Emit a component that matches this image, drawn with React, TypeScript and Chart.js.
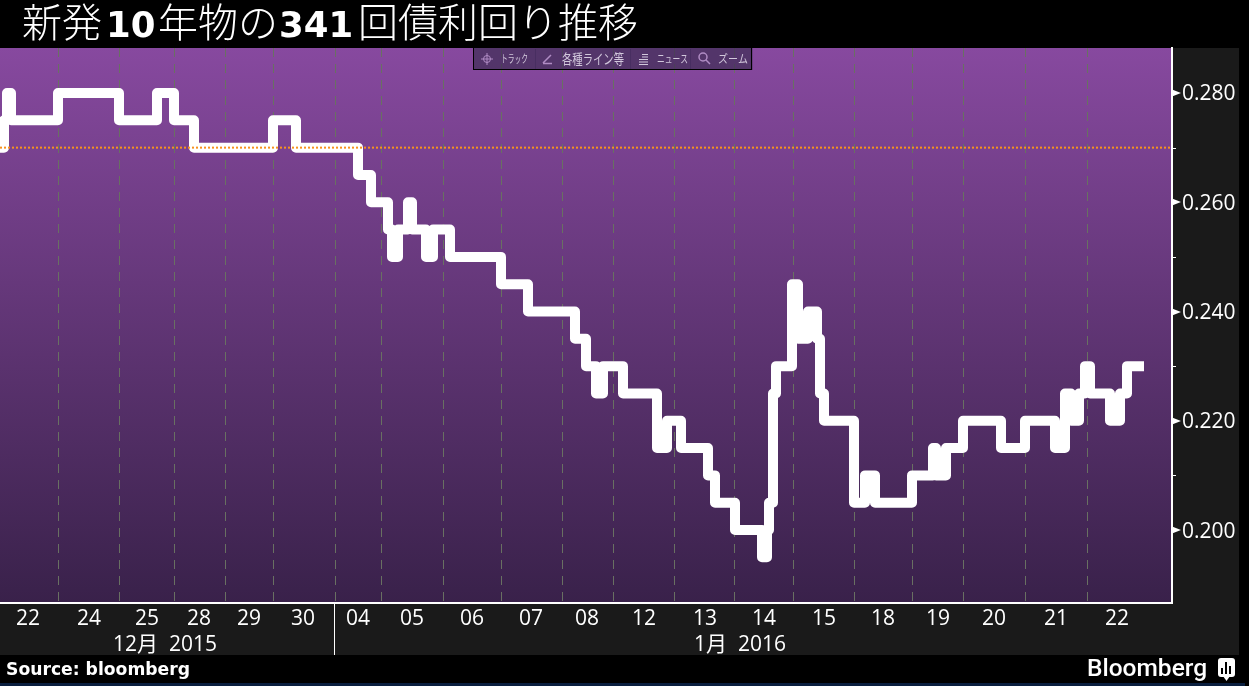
import React, { useEffect, useRef } from "react";
import { Chart, registerables } from "chart.js";

Chart.register(...registerables);

// Elapsed trading ticks on the bottom axis, and the yield set at each tick (step line)
const elapsedTicks = [0, 4, 7, 11, 58, 119, 157, 174, 194, 273, 296, 358, 371, 388, 392, 398, 408, 412, 426, 433, 450, 501, 528, 575, 586, 596, 603, 623, 657, 667, 681, 708, 715, 735, 762, 767, 769, 773, 776, 792, 798, 808, 817, 820, 824, 854, 865, 875, 912, 933, 936, 946, 963, 1001, 1025, 1055, 1065, 1071, 1079, 1085, 1090, 1110, 1120, 1127, 1144];
const yields = [0.27, 0.275, 0.28, 0.275, 0.28, 0.275, 0.28, 0.275, 0.27, 0.275, 0.27, 0.265, 0.26, 0.255, 0.25, 0.255, 0.26, 0.255, 0.25, 0.255, 0.25, 0.245, 0.24, 0.235, 0.23, 0.225, 0.23, 0.225, 0.215, 0.22, 0.215, 0.21, 0.205, 0.2, 0.195, 0.2, 0.205, 0.225, 0.23, 0.245, 0.235, 0.24, 0.235, 0.225, 0.22, 0.205, 0.21, 0.205, 0.21, 0.215, 0.21, 0.215, 0.22, 0.215, 0.22, 0.215, 0.225, 0.22, 0.225, 0.23, 0.225, 0.22, 0.225, 0.23, 0.23];
const referenceYield = 0.27;

const xMin = 0;
const xMax = 1172;
const yMin = 0.18664;
const yMax = 0.28824;

const dayBoundaries = [58, 119, 174, 225, 273, 335, 381, 443, 501, 562, 613, 674, 735, 793, 854, 912, 963, 1025, 1087];
const dayLabels = ["22", "24", "25", "28", "29", "30", "04", "05", "06", "07", "08", "12", "13", "14", "15", "18", "19", "20", "21", "22"];
const dayCentres = [28, 89, 147, 199, 249, 303, 358, 412, 472, 531, 587, 644, 705, 764, 824, 883, 938, 994, 1056, 1117];
const monthLabels = ["12月  2015", "1月  2016"];
const monthCentres = [165, 740];
const monthSeparator = 335;
const yTicks = [0.2, 0.21, 0.22, 0.23, 0.24, 0.25, 0.26, 0.27, 0.28];
const yLabelled = [0.2, 0.22, 0.24, 0.26, 0.28];

const cjk = '"Noto Sans CJK JP"';
const labelFont = '"Open Sans", "Noto Sans CJK JP", sans-serif';

const titleRuns: [string, boolean, number][] = [
  ["新発", false, 22],
  ["10", true, 106],
  ["年物の", false, 158],
  ["341", true, 279],
  ["回債利回り推移", false, 358],
];

const toolbarItems: [string, number, number][] = [
  ["トラック", 501, 27],
  ["各種ライン等", 562, 62],
  ["ニュース", 657, 31],
  ["ズーム", 718, 30],
];
const toolbarDividers = [535, 630, 690];

const chrome = {
  id: "chrome",
  beforeDraw(chart: any) {
    const { ctx, chartArea: a, width, height } = chart;
    ctx.save();
    ctx.fillStyle = "#000";
    ctx.fillRect(0, 0, width, height);
    ctx.fillStyle = "#1a1a1a";
    ctx.fillRect(0, a.top, 1239, 655 - a.top);
    ctx.fillStyle = "#0a1f3f";
    ctx.fillRect(0, 683, 1245, 3);
    const g = ctx.createLinearGradient(0, a.top, 0, a.bottom);
    g.addColorStop(0, "#87499f");
    g.addColorStop(1, "#39214a");
    ctx.fillStyle = g;
    ctx.fillRect(a.left, a.top, a.right - a.left, a.bottom - a.top);

    ctx.fillStyle = "#fff";
    ctx.textBaseline = "alphabetic";
    ctx.textAlign = "left";
    for (const [text, bold, x] of titleRuns) {
      ctx.font = bold ? 'bold 35.5px "DejaVu Sans"' : `300 40px ${cjk}`;
      ctx.fillText(text, x, 37);
    }

    ctx.font = 'bold 17.2px "DejaVu Sans"';
    ctx.fillText("Source: bloomberg", 6, 675);
    ctx.font = '500 24.5px Roboto';
    ctx.fillText("Bloomberg", 1087, 676);
    ctx.beginPath();
    ctx.roundRect(1218, 658, 17, 19, 3);
    ctx.fill();
    ctx.beginPath();
    ctx.moveTo(1223, 676);
    ctx.lineTo(1226.5, 681);
    ctx.lineTo(1230, 676);
    ctx.fill();
    ctx.fillStyle = "#000";
    ctx.fillRect(1221, 668, 2, 6);
    ctx.fillRect(1225, 662, 2, 12);
    ctx.fillRect(1229, 666, 2, 8);
    ctx.restore();
  },
  afterDraw(chart: any) {
    const { ctx, chartArea: a, scales } = chart;
    ctx.save();
    // y-axis tick marks
    ctx.fillStyle = "#fff";
    for (const v of yTicks) {
      const y = Math.round(scales.y.getPixelForValue(v));
      if (yLabelled.includes(v)) {
        ctx.beginPath();
        ctx.moveTo(a.right, y - 3.5);
        ctx.lineTo(a.right + 9, y);
        ctx.lineTo(a.right, y + 3.5);
        ctx.fill();
      } else {
        ctx.fillRect(a.right, y, 4, 1);
      }
    }
    // month separator
    const sx = Math.round(scales.x.getPixelForValue(monthSeparator));
    ctx.fillRect(sx - 1, a.bottom, 1, 655 - a.bottom);

    // toolbar
    ctx.fillStyle = "rgba(64,46,86,0.72)";
    ctx.fillRect(473.5, 48, 279, 22);
    ctx.strokeStyle = "#000";
    ctx.lineWidth = 1;
    ctx.strokeRect(473.5, 47.5, 278, 22);
    ctx.strokeStyle = "rgba(70,45,95,0.8)";
    for (const x of toolbarDividers) {
      ctx.beginPath();
      ctx.moveTo(x + 0.5, 49);
      ctx.lineTo(x + 0.5, 69);
      ctx.stroke();
    }
    ctx.fillStyle = "#d2c8dc";
    ctx.textBaseline = "middle";
    ctx.textAlign = "left";
    for (const [text, x, w] of toolbarItems) {
      ctx.font = `${w > 40 ? 14 : 11}px ${cjk}`;
      ctx.fillText(text, x, 59, w);
    }
    ctx.strokeStyle = "#b08cc4";
    ctx.beginPath();
    ctx.arc(487, 59, 3.5, 0, Math.PI * 2);
    ctx.moveTo(481, 59);
    ctx.lineTo(493, 59);
    ctx.moveTo(487, 53);
    ctx.lineTo(487, 65);
    ctx.stroke();
    ctx.lineWidth = 1.5;
    ctx.beginPath();
    ctx.moveTo(543, 63);
    ctx.lineTo(551, 55);
    ctx.moveTo(543, 63.5);
    ctx.lineTo(552, 63.5);
    ctx.stroke();
    ctx.lineWidth = 1;
    ctx.strokeStyle = "#d2c8dc";
    ctx.beginPath();
    for (let i = 0; i < 5; i++) {
      ctx.moveTo(i < 2 ? 642 : 639, 54.5 + i * 2.5);
      ctx.lineTo(648, 54.5 + i * 2.5);
    }
    ctx.stroke();
    ctx.strokeStyle = "#b08cc4";
    ctx.lineWidth = 1.5;
    ctx.beginPath();
    ctx.arc(703, 57, 4, 0, Math.PI * 2);
    ctx.moveTo(706, 60);
    ctx.lineTo(710, 64);
    ctx.stroke();
    ctx.restore();
  },
};

export default function App() {
  const ref = useRef<HTMLCanvasElement>(null);

  useEffect(() => {
    document.body.style.margin = "0";
    const chart = new Chart(ref.current as HTMLCanvasElement, {
      type: "line",
      data: {
        datasets: [
          {
            data: [
              { x: xMin, y: referenceYield },
              { x: xMax, y: referenceYield },
            ],
            borderColor: "#f7931e",
            borderWidth: 2,
            borderDash: [2, 2],
            pointRadius: 0,
          },
          {
            data: elapsedTicks.map((x, i) => ({ x, y: yields[i] })),
            borderColor: "#ffffff",
            borderWidth: 10,
            borderJoinStyle: "round",
            borderCapStyle: "butt",
            stepped: true,
            pointRadius: 0,
          },
        ],
      } as any,
      options: {
        responsive: false,
        animation: false,
        layout: { padding: { top: 48, bottom: 31, left: 0, right: 0 } },
        plugins: { legend: { display: false }, title: { display: false }, tooltip: { enabled: false } },
        scales: {
          x: {
            type: "linear",
            position: "bottom",
            min: xMin,
            max: xMax,
            weight: 0,
            afterBuildTicks: (s: any) => {
              s.ticks = dayBoundaries.map((value) => ({ value }));
            },
            afterFit: (s: any) => {
              s.height = 0;
            },
            ticks: { display: false },
            grid: { color: "#697062", lineWidth: 1, drawTicks: false },
            border: { color: "#ffffff", width: 2, dash: [9, 7] },
          },
          xDay: {
            type: "linear",
            position: "bottom",
            min: xMin,
            max: xMax,
            weight: 1,
            afterBuildTicks: (s: any) => {
              s.ticks = dayCentres.map((value) => ({ value }));
            },
            afterFit: (s: any) => {
              s.height = 29;
            },
            grid: { display: false, drawTicks: false },
            border: { display: false },
            ticks: {
              autoSkip: false,
              maxRotation: 0,
              padding: 3,
              color: "#ffffff",
              font: { family: labelFont, size: 21 },
              callback: (_v: any, i: number) => dayLabels[i],
            },
          },
          xMonth: {
            type: "linear",
            position: "bottom",
            min: xMin,
            max: xMax,
            weight: 2,
            afterBuildTicks: (s: any) => {
              s.ticks = monthCentres.map((value) => ({ value }));
            },
            afterFit: (s: any) => {
              s.height = 23;
            },
            grid: { display: false, drawTicks: false },
            border: { display: false },
            ticks: {
              autoSkip: false,
              maxRotation: 0,
              padding: 0,
              color: "#ffffff",
              font: { family: labelFont, size: 21 },
              callback: (_v: any, i: number) => monthLabels[i],
            },
          },
          y: {
            type: "linear",
            position: "right",
            min: yMin,
            max: yMax,
            afterBuildTicks: (s: any) => {
              s.ticks = yTicks.map((value) => ({ value }));
            },
            afterFit: (s: any) => {
              s.width = 77;
            },
            grid: { display: false, drawTicks: false },
            border: { color: "#ffffff", width: 2 },
            ticks: {
              padding: 10,
              labelOffset: 1.5,
              color: "#ffffff",
              font: { family: labelFont, size: 21 },
              autoSkip: false,
              callback: (v: any) => (yLabelled.includes(v) ? Number(v).toFixed(3) : ""),
            },
          },
        },
      } as any,
      plugins: [chrome],
    });
    return () => chart.destroy();
  }, []);

  return <canvas ref={ref} width={1249} height={686} style={{ display: "block" }} />;
}
